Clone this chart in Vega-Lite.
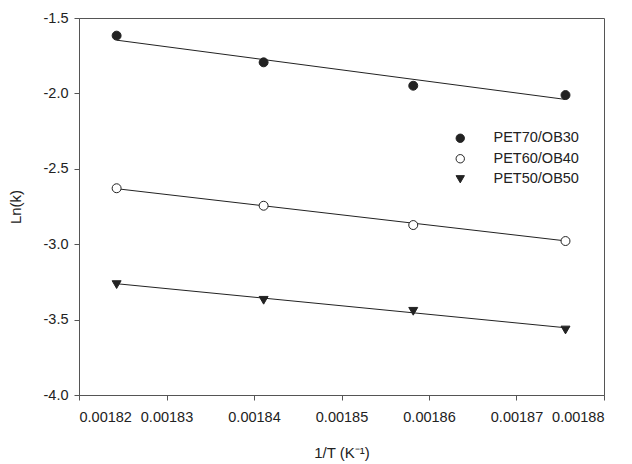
{
  "$schema": "https://vega.github.io/schema/vega-lite/v6.json",
  "autosize": "none",
  "width": 525,
  "height": 377,
  "padding": {"left": 79, "top": 18, "right": 28, "bottom": 69},
  "background": "white",
  "config": {
    "font": "Liberation Sans",
    "view": {"stroke": "#555", "strokeWidth": 1},
    "axis": {
      "grid": false,
      "domainColor": "#555",
      "tickColor": "#555",
      "tickSize": 5,
      "labelColor": "#222",
      "titleColor": "#222",
      "labelFont": "Liberation Sans",
      "titleFont": "Liberation Sans",
      "titleFontWeight": "normal",
      "labelFontSize": 14.5,
      "titleFontSize": 15
    },
    "legend": {
      "title": null,
      "labelFontSize": 14.5,
      "labelColor": "#222",
      "labelFont": "Liberation Sans",
      "labelOffset": 26,
      "rowPadding": 5.5,
      "symbolSize": 70,
      "symbolStrokeWidth": 1,
      "padding": 0
    }
  },
  "datasets": {
    "pts": [
      {"invT": 0.0018243, "lnk": -1.617, "series": "PET70/OB30"},
      {"invT": 0.0018411, "lnk": -1.794, "series": "PET70/OB30"},
      {"invT": 0.0018582, "lnk": -1.949, "series": "PET70/OB30"},
      {"invT": 0.0018756, "lnk": -2.011, "series": "PET70/OB30"},
      {"invT": 0.0018243, "lnk": -2.629, "series": "PET60/OB40"},
      {"invT": 0.0018411, "lnk": -2.745, "series": "PET60/OB40"},
      {"invT": 0.0018582, "lnk": -2.873, "series": "PET60/OB40"},
      {"invT": 0.0018756, "lnk": -2.979, "series": "PET60/OB40"},
      {"invT": 0.0018243, "lnk": -3.268, "series": "PET50/OB50"},
      {"invT": 0.0018411, "lnk": -3.372, "series": "PET50/OB50"},
      {"invT": 0.0018582, "lnk": -3.445, "series": "PET50/OB50"},
      {"invT": 0.0018756, "lnk": -3.569, "series": "PET50/OB50"}
    ],
    "fit": [
      {"invT": 0.0018243, "lnk": -1.647, "series": "PET70/OB30"},
      {"invT": 0.0018756, "lnk": -2.040, "series": "PET70/OB30"},
      {"invT": 0.0018243, "lnk": -2.632, "series": "PET60/OB40"},
      {"invT": 0.0018756, "lnk": -2.978, "series": "PET60/OB40"},
      {"invT": 0.0018243, "lnk": -3.262, "series": "PET50/OB50"},
      {"invT": 0.0018756, "lnk": -3.554, "series": "PET50/OB50"}
    ]
  },
  "layer": [
    {
      "data": {"name": "fit"},
      "mark": {"type": "line", "color": "#222", "strokeWidth": 1},
      "encoding": {
        "x": {"field": "invT", "type": "quantitative"},
        "y": {"field": "lnk", "type": "quantitative"},
        "detail": {"field": "series"}
      }
    },
    {
      "data": {"name": "pts"},
      "mark": {"type": "point", "filled": true, "strokeWidth": 1, "opacity": 1, "size": 80},
      "encoding": {
        "x": {
          "field": "invT", "type": "quantitative",
          "scale": {"domain": [0.00182, 0.00188], "nice": false, "zero": false},
          "axis": {
            "title": "1/T (K⁻¹)",
            "values": [0.00182, 0.00183, 0.00184, 0.00185, 0.00186, 0.00187, 0.00188],
            "format": ".5f",
            "labelPadding": 10,
            "titleX": 262.5,
            "titleY": 57,
            "titleBaseline": "middle"
          }
        },
        "y": {
          "field": "lnk", "type": "quantitative",
          "scale": {"domain": [-4, -1.5], "nice": false, "zero": false},
          "axis": {
            "title": "Ln(k)",
            "values": [-4, -3.5, -3, -2.5, -2, -1.5],
            "labelExpr": "replace(format(datum.value, '.1f'), '\u2212', '-')",
            "labelPadding": 6,
            "titleX": -64,
            "titleY": 188.5,
            "titleAngle": -90,
            "titleAlign": "center",
            "titleBaseline": "middle"
          }
        },
        "shape": {
          "field": "series", "type": "nominal",
          "scale": {"domain": ["PET70/OB30", "PET60/OB40", "PET50/OB50"], "range": ["circle", "circle", "triangle-down"]},
          "legend": {"orient": "none", "legendX": 374, "legendY": 113}
        },
        "fill": {
          "field": "series", "type": "nominal",
          "scale": {"domain": ["PET70/OB30", "PET60/OB40", "PET50/OB50"], "range": ["#222222", "#ffffff", "#222222"]},
          "legend": {"orient": "none", "legendX": 374, "legendY": 113}
        },
        "stroke": {
          "field": "series", "type": "nominal",
          "scale": {"domain": ["PET70/OB30", "PET60/OB40", "PET50/OB50"], "range": ["#222222", "#222222", "#222222"]},
          "legend": {"orient": "none", "legendX": 374, "legendY": 113}
        }
      }
    }
  ]
}
